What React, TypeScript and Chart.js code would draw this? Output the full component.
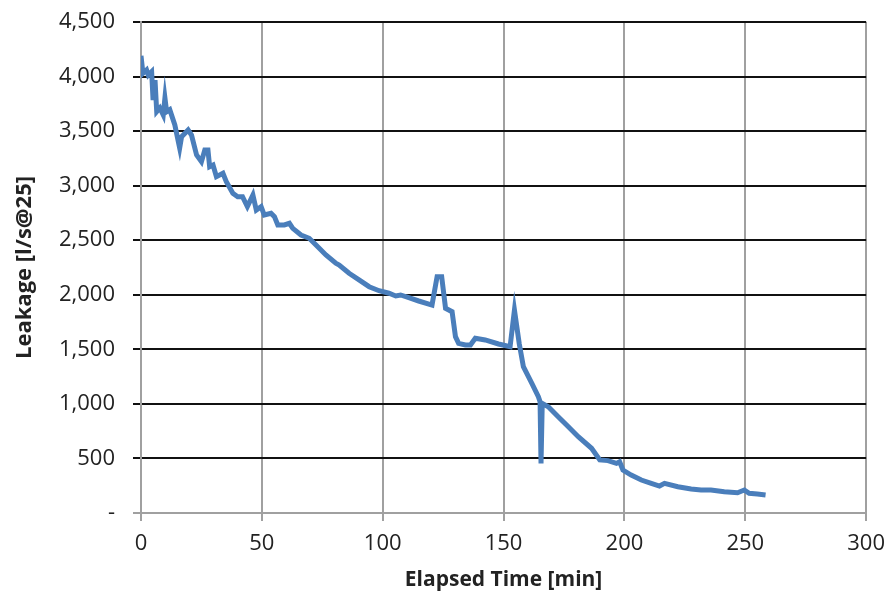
import React, { useEffect, useRef } from "react";
import { Chart, registerables } from "chart.js";

Chart.register(...registerables);

const elapsedMin = [
  0, 0.8, 2.3, 3, 4.4, 5, 5.8, 6.5, 7.8, 9.2, 9.9, 10.6, 11.9, 14, 16, 16.8, 19.5, 20.9, 23, 25,
  26.4, 27.7, 28.4, 29.8, 31.2, 33.9, 35.3, 38, 40, 42, 44, 46.3, 47.7, 49.7, 51, 53.8, 55.2, 56.6,
  59.3, 61.4, 62.8, 66.2, 69.6, 72.4, 76.5, 80.6, 82, 86.1, 90.2, 94.4, 98.5, 102.6, 105.4, 107.4,
  110.8, 114.9, 120.4, 122.5, 124.4, 126, 128.7, 130.1, 131.4, 134.2, 136.3, 138.3, 142.4, 147.9,
  152.7, 154.5, 156.5, 158.2, 161.7, 164.4, 165.1, 165.5, 166, 168.5, 172.6, 176.8, 180.9, 186.4,
  189.8, 193.2, 196.7, 198, 199.4, 202.8, 207, 211.1, 214.5, 216.6, 222.1, 227.6, 231.7, 235.8,
  241.3, 246.8, 249.6, 251.6, 255, 258.4,
];

const leakage = [
  4190, 4030, 4060, 4014, 4045, 3785, 3968, 3678, 3712, 3648, 3804, 3678, 3697, 3556, 3345, 3449,
  3510, 3464, 3281, 3220, 3327, 3327, 3174, 3189, 3082, 3113, 3037, 2930, 2899, 2899, 2808, 2914,
  2777, 2808, 2731, 2747, 2716, 2640, 2640, 2655, 2609, 2548, 2518, 2456, 2365, 2289, 2273, 2197,
  2136, 2074, 2037, 2014, 1989, 1998, 1973, 1943, 1906, 2166, 2166, 1876, 1845, 1616, 1555, 1540,
  1540, 1601, 1586, 1549, 1524, 1860, 1550, 1341, 1189, 1066, 1020, 455, 1005, 974, 883, 791, 699,
  593, 486, 480, 455, 470, 394, 348, 302, 272, 247, 272, 241, 220, 211, 211, 195, 186, 211, 180,
  174, 165,
];

const xTicks = [0, 50, 100, 150, 200, 250, 300];
const yTicks = [0, 500, 1000, 1500, 2000, 2500, 3000, 3500, 4000, 4500];

const xTitle = "Elapsed Time [min]";
const yTitle = "Leakage [l/s@25]";

const FONT = "'Open Sans', Lato, sans-serif";

export default function App() {
  const ref = useRef<HTMLCanvasElement | null>(null);

  useEffect(() => {
    if (!ref.current) return;
    const points = elapsedMin.map((t, i) => ({ x: t, y: leakage[i] }));
    const chart = new Chart(ref.current, {
      type: "scatter",
      data: {
        datasets: [
          {
            data: points,
            showLine: true,
            borderColor: "#4a7ebb",
            backgroundColor: "#4a7ebb",
            borderWidth: 5,
            pointRadius: 0,
            tension: 0,
          },
        ],
      },
      options: {
        animation: false,
        responsive: false,
        maintainAspectRatio: false,
        layout: { padding: { top: 22, right: 26, left: 0, bottom: 0 } },
        plugins: { legend: { display: false }, tooltip: { enabled: false } },
        scales: {
          x: {
            type: "linear",
            min: xTicks[0],
            max: xTicks[xTicks.length - 1],
            afterBuildTicks: (s: any) => {
              s.ticks = xTicks.map((v) => ({ value: v }));
            },
            ticks: {
              color: "#222",
              font: { family: FONT, size: 22 },
              padding: 10,
              maxRotation: 0,
            },
            grid: { color: "#a0a0a0", lineWidth: 2, tickLength: 8, drawTicks: true },
            border: { color: "#a0a0a0", width: 2 },
            title: {
              display: true,
              text: xTitle,
              color: "#222",
              font: { family: FONT, size: 21, weight: "bold" },
              padding: { top: 6, bottom: 8 },
            },
            afterFit: (s: any) => {
              s.height = 88;
            },
          },
          y: {
            type: "linear",
            min: yTicks[0],
            max: yTicks[yTicks.length - 1],
            afterBuildTicks: (s: any) => {
              s.ticks = yTicks.map((v) => ({ value: v }));
            },
            ticks: {
              color: "#222",
              font: { family: FONT, size: 22 },
              padding: 18,
              callback: (v: any) => (Number(v) === 0 ? "-" : Number(v).toLocaleString("en-US")),
            },
            grid: {
              color: (c: any) => (c.tick && c.tick.value === 0 ? "#a0a0a0" : "#111"),
              lineWidth: 2,
              tickLength: 8,
            },
            border: { color: "#a0a0a0", width: 2 },
            title: {
              display: true,
              text: yTitle,
              color: "#222",
              font: { family: FONT, size: 22, weight: "bold" },
              padding: { top: 12, bottom: 6 },
            },
            afterFit: (s: any) => {
              s.width = 141;
              s.paddingTop = 0;
              s.paddingBottom = 0;
            },
          },
        },
      },
    });
    return () => chart.destroy();
  }, []);

  return (
    <div style={{ position: "absolute", left: 0, top: 0, width: 895, height: 601, background: "#fff" }}>
      <canvas ref={ref} width={895} height={601} style={{ display: "block" }} />
    </div>
  );
}
